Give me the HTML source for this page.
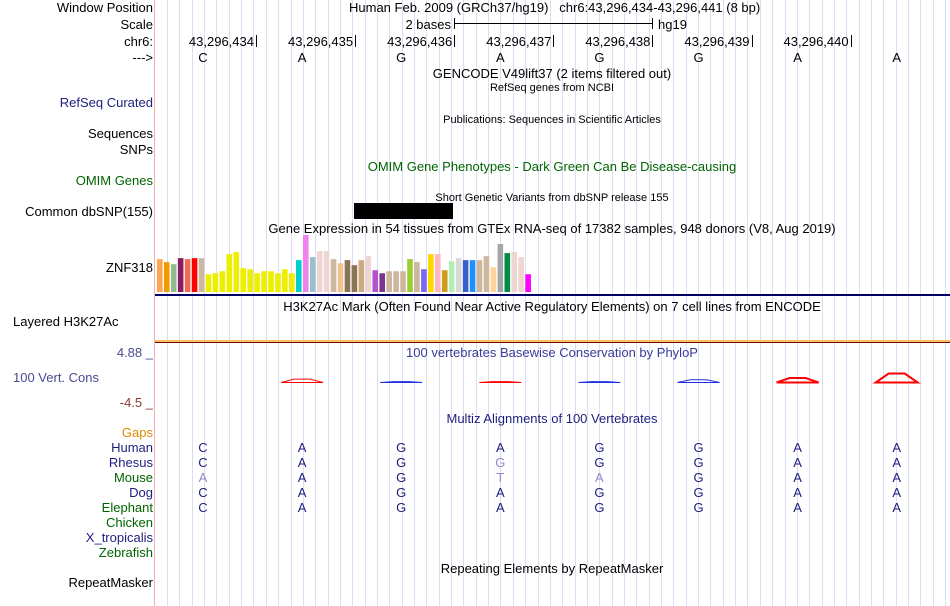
<!DOCTYPE html>
<html><head><meta charset="utf-8"><style>
body{margin:0;background:#fff;width:950px;height:606px;overflow:hidden;position:relative;font-family:"Liberation Sans",sans-serif;font-size:13px;}
.t{position:absolute;white-space:nowrap;line-height:14px;}
.l{position:absolute;right:797px;text-align:right;white-space:nowrap;line-height:14px;}
.c{position:absolute;white-space:nowrap;line-height:14px;transform:translateX(-50%);}
.n{color:#1e1e7e}.g{color:#006400}.o{color:#e08a00}
</style></head><body>
<svg id="grid" width="950" height="606" style="position:absolute;left:0;top:0"></svg>
<div id="txt"></div>
<svg id="chart" width="950" height="606" style="position:absolute;left:0;top:0"></svg>
<script>
const bases=["C","A","G","A","G","G","A","A"];
const coordLabels=["43,296,434","43,296,435","43,296,436","43,296,437","43,296,438","43,296,439","43,296,440"];
const gtexValues=[98,89,83,101,98,101,101,53,56,62,113,119,71,68,56,62,62,56,68,56,95,170,104,122,122,98,86,95,80,95,107,65,56,62,62,62,98,89,68,113,113,65,92,101,95,95,95,107,74,143,116,119,104,53];
const gtexColors=["#ffa54f","#ee9a00","#8fbc8f","#8b1c62","#ee6a50","#ff0000","#cdb79e","#eeee00","#eeee00","#eeee00","#eeee00","#eeee00","#eeee00","#eeee00","#eeee00","#eeee00","#eeee00","#eeee00","#eeee00","#eeee00","#00cdcd","#ee82ee","#9ac0cd","#eed5d2","#eed5d2","#cdb79e","#eec591","#8b7355","#8b7355","#cdaa7d","#eed5d2","#b452cd","#7a378b","#cdb79e","#cdb79e","#cdb79e","#9acd32","#cdb79e","#7b68ee","#ffd700","#ffb6c1","#cd9b1d","#b4eeb4","#d9d9d9","#3a5fcd","#1e90ff","#cdb79e","#cdb79e","#ffd39b","#a6a6a6","#008b45","#eed5d2","#eed5d2","#ff00ff"];
const speciesBases=[["C","A","G","A","G","G","A","A"],["C","A","G","G","G","G","A","A"],["A","A","G","T","A","G","A","A"],["C","A","G","A","G","G","A","A"],["C","A","G","A","G","G","A","A"]];
const phyloP=[1.2,-0.3,0.3,-0.3,-1.0,1.6,3.2];

const NS="http://www.w3.org/2000/svg";
const grid=document.getElementById('grid');
function rect(svg,x,y,w,h,f){const r=document.createElementNS(NS,'rect');r.setAttribute('x',x);r.setAttribute('y',y);r.setAttribute('width',w);r.setAttribute('height',h);r.setAttribute('fill',f);svg.appendChild(r);return r;}
for(let x=167;x<950;x+=12.35){const r=rect(grid,Math.round(x),0,1,606,'#dcdcf4');}
rect(grid,154,0,1,606,'#f4b0b0');
const bx=i=>203+i*99.1;
const txt=document.getElementById('txt');
function add(cls,x,y,s,extra){const d=document.createElement('div');d.className=cls;if(cls.startsWith('l'))d.style.top=(y-6)+'px';else{d.style.left=x+'px';d.style.top=(y-6)+'px';}d.textContent=s;if(extra)d.style.cssText+=extra;txt.appendChild(d);return d;}
[["Window Position",7,""],["Scale",24,""],["chr6:",41,""],["--->",57,""],["RefSeq Curated",102," n"],["Sequences",133,""],["SNPs",149,""],["OMIM Genes",180," g"],["Common dbSNP(155)",211,""],["ZNF318",267,""],["Gaps",432," o"],["Human",447," n"],["Rhesus",462," n"],["Mouse",477," g"],["Dog",492," n"],["Elephant",507," g"],["Chicken",522," g"],["X_tropicalis",537," n"],["Zebrafish",552," g"],["RepeatMasker",582,""]].forEach(a=>add('l'+a[2],0,a[1],a[0]));
add('t',13,321,'Layered H3K27Ac');
add('t',13,377,'100 Vert. Cons','color:#4a4a90');
add('l',0,352,'4.88 _','color:#4a4a90;right:797px');
add('l',0,402,'-4.5 _','color:#8b3a3a;right:797px');
add('t',349,7,'Human Feb. 2009 (GRCh37/hg19)   chr6:43,296,434-43,296,441 (8 bp)','white-space:pre');
add('l',0,24,'2 bases','right:499px');add('t',658,24,'hg19');
rect(grid,454,23,199,1,'#000');rect(grid,454,18,1,11,'#000');rect(grid,652,18,1,11,'#000');
coordLabels.forEach((s,i)=>{const d=add('l',0,41,s);d.style.right=(950-254-i*99.1)+'px';rect(grid,Math.round(256+i*99.1),35,1,12,'#000');});
bases.forEach((b,i)=>add('c',bx(i),57,b));
add('c',552,73,'GENCODE V49lift37 (2 items filtered out)');
add('c',552,87,'RefSeq genes from NCBI','font-size:11px');
add('c',552,119,'Publications: Sequences in Scientific Articles','font-size:11px');
add('c',552,166,'OMIM Gene Phenotypes - Dark Green Can Be Disease-causing','color:#006400');
add('c',552,197,'Short Genetic Variants from dbSNP release 155','font-size:11px');
rect(grid,354,203,99,16,'#000');
add('c',552,228,'Gene Expression in 54 tissues from GTEx RNA-seq of 17382 samples, 948 donors (V8, Aug 2019)');
add('c',552,306,'H3K27Ac Mark (Often Found Near Active Regulatory Elements) on 7 cell lines from ENCODE');
add('c',552,352,'100 vertebrates Basewise Conservation by PhyloP','color:#3a3a9a');
add('c',552,418,'Multiz Alignments of 100 Vertebrates','color:#1e1e7e');
add('c',552,568,'Repeating Elements by RepeatMasker');
speciesBases.forEach((row,s)=>row.forEach((b,i)=>{const light=b!==bases[i]||(s===2&&i===0);add('c',bx(i),447+s*15,b,light?'color:#8c8cc8':'color:#1e1e7e');}));
rect(grid,155,294,795,2,'#000066');
rect(grid,155,340,795,2,'#f8c060');rect(grid,155,342,795,1,'#700000');
const ch=document.getElementById('chart');
const base=292,scale=57/170,pitch=6.95;
gtexValues.forEach((v,i)=>{const h=v*scale;const r=rect(ch,157+i*pitch,base-h,5.6,h,gtexColors[i]);

});
phyloP.forEach((v,i)=>{const x=bx(i+1);const y=382.5-Math.abs(v)*2.8;const p=document.createElementNS(NS,'path');
p.setAttribute('d',`M${x-21},382.5 L${x-8},${y} L${x+8},${y} L${x+21},382.5 Z`);p.setAttribute('fill','none');p.setAttribute('stroke',v>0?'#ff0000':'#2030e0');p.setAttribute('stroke-width',Math.abs(v)>1.4?2:1);


ch.appendChild(p);});
</script>
</body></html>
